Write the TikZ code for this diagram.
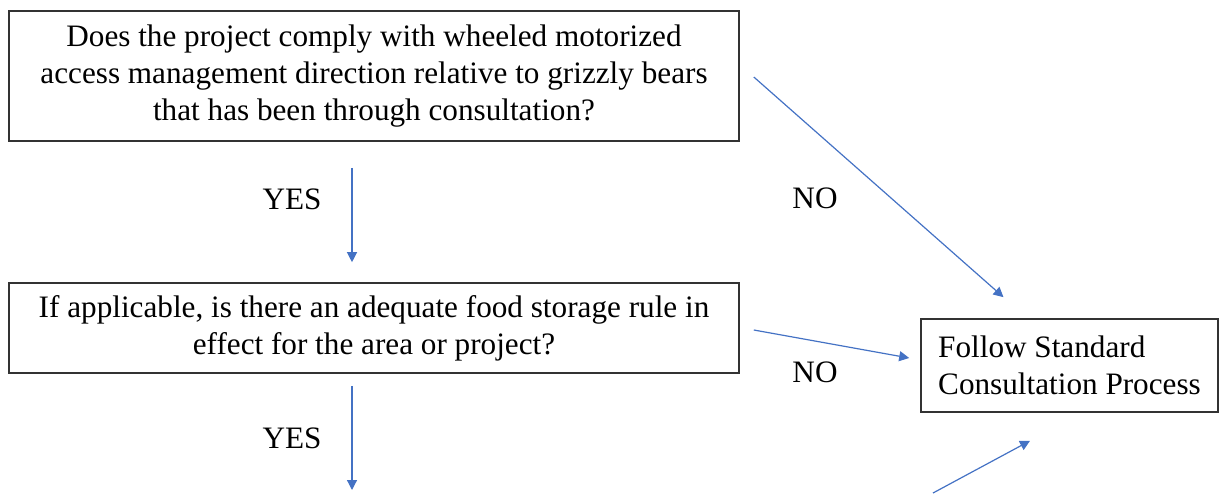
\documentclass[tikz,border=0pt]{standalone}
\usepackage{fontspec}
\setmainfont{Liberation Serif}
\usetikzlibrary{arrows.meta}
\definecolor{flowblue}{RGB}{68,114,196}

\begin{document}
\begin{tikzpicture}[x=0.5pt, y=-0.5pt,
        font=\fontsize{15.6}{18.5}\selectfont,
        qbox/.style={draw=black!80, line width=0.8pt, align=center},
        flow/.style={flowblue, line width=0.6pt, -{Triangle[width=5pt, length=5pt]}}]
        \useasboundingbox (0,0) rectangle (1221,493);

        \node[qbox, minimum width=365pt, minimum height=65pt] (q1) at (374,76)
            {Does the project comply with wheeled motorized\\
             access management direction relative to grizzly bears\\
             that has been through consultation?};
        \node[qbox, minimum width=365pt, minimum height=45pt] (q2) at (374,328)
            {If applicable, is there an adequate food storage rule in\\
             effect for the area or project?};
        \node[qbox, align=left, minimum width=148.5pt, minimum height=46.5pt] (std) at (1069.5,365.5)
            {Follow Standard\\Consultation Process};

        \node (yes1) at (292,199) {YES};
        \node (yes2) at (292,438) {YES};
        \node (no1) at (815,198) {NO};
        \node (no2) at (815,372) {NO};

        \coordinate (q3) at (933,493);
        \coordinate (q3top) at (352,490);

        \draw[flow] ([xshift=-11pt, yshift=-13pt]q1.south) -- ([xshift=-11pt, yshift=10pt]q2.north);
        \draw[flow] ([xshift=-11pt, yshift=-6pt]q2.south) -- (q3top);

        \draw[flow] ([xshift=7pt, yshift=-0.5pt]q1.east) -- ([xshift=-33pt, yshift=10.5pt]std.north);
        \draw[flow] ([xshift=7pt, yshift=-1pt]q2.east) -- ([xshift=-5.5pt, yshift=3.75pt]std.west);
        \draw[flow] (q3) -- ([xshift=-19.75pt, yshift=-14pt]std.south);
        \end{tikzpicture}
\end{document}
